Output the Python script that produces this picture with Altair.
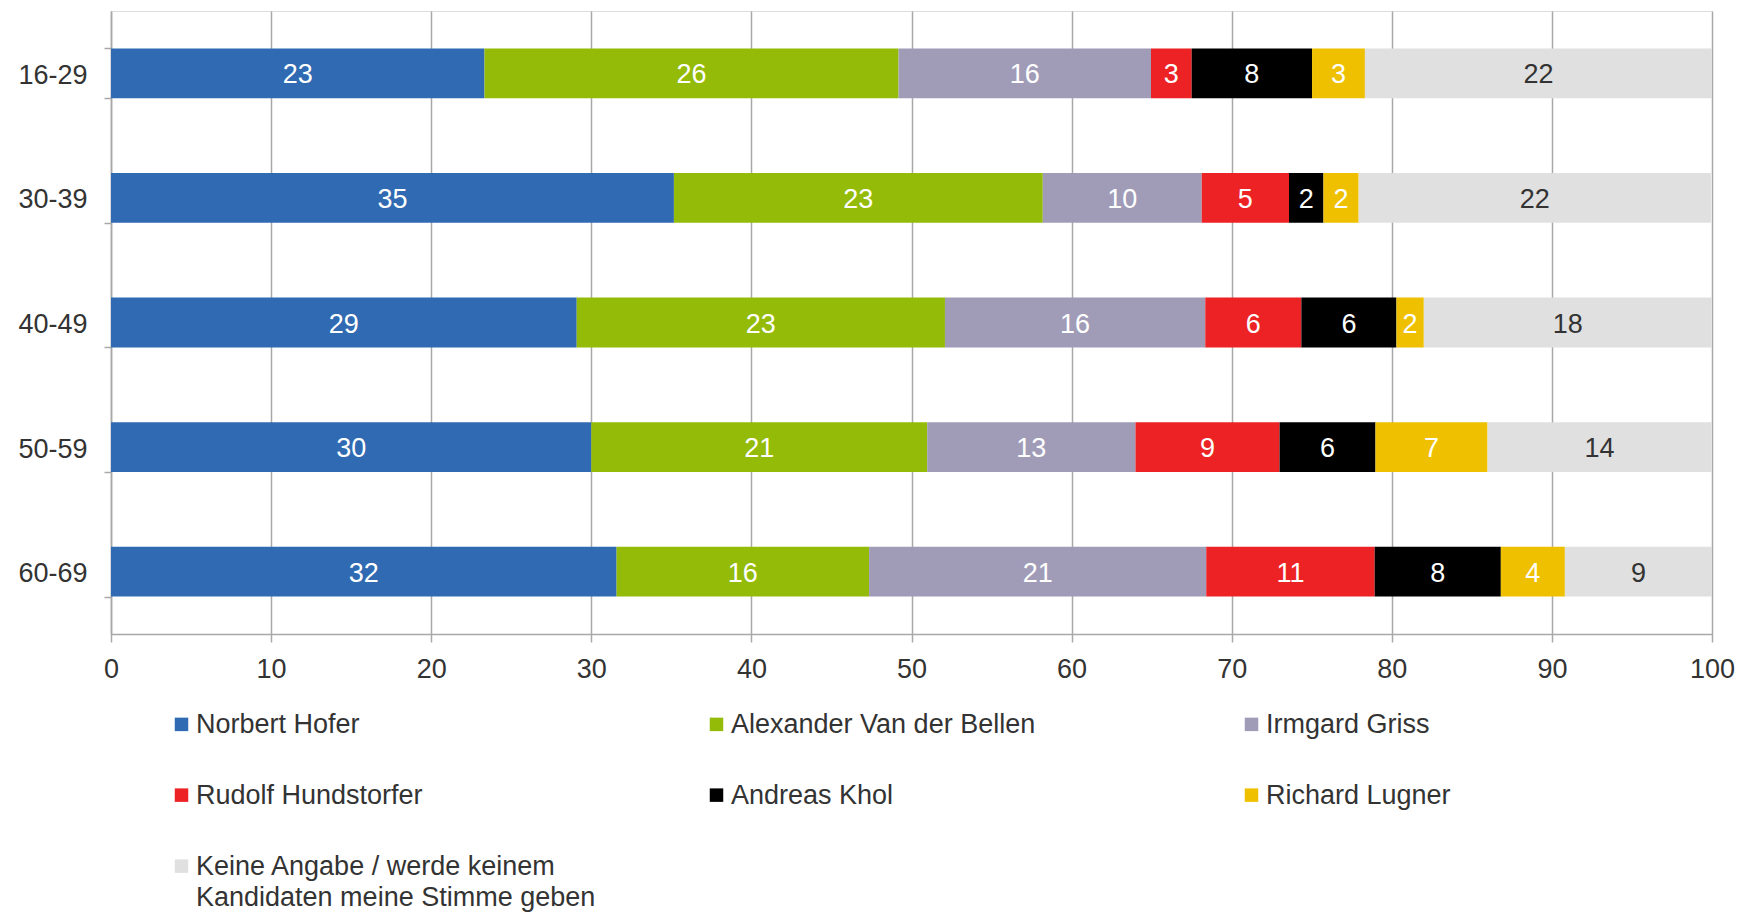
import altair as alt
import pandas as pd

FONT = "Liberation Sans"
FS = 27

ages = ["16-29", "30-39", "40-49", "50-59", "60-69"]
candidates = [
    "Norbert Hofer",
    "Alexander Van der Bellen",
    "Irmgard Griss",
    "Rudolf Hundstorfer",
    "Andreas Khol",
    "Richard Lugner",
    "Keine Angabe / werde keinem Kandidaten meine Stimme geben",
]
colors = ["#2F6AB2", "#93BB07", "#A09CB8", "#EC2224", "#000000", "#EEC000", "#E0E0E0"]

hofer = [23.33, 35.16, 29.09, 30.0, 31.58]
vdb = [25.86, 23.04, 23.0, 20.98, 15.77]
griss = [15.77, 9.93, 16.26, 13.01, 21.06]
hund = [2.54, 5.45, 6.0, 9.0, 10.52]
khol = [7.52, 2.15, 5.94, 5.99, 7.88]
lugner = [3.3, 2.2, 1.71, 7.0, 4.0]
keine = [21.7, 22.0, 17.98, 14.0, 9.19]

x_ticks = [0, 10, 20, 30, 40, 50, 60, 70, 80, 90, 100]

series = [hofer, vdb, griss, hund, khol, lugner, keine]
rows = []
for ci, (cand, vals) in enumerate(zip(candidates, series)):
    for age, v in zip(ages, vals):
        rows.append({"age": age, "candidate": cand, "order": ci, "value": v})
df = pd.DataFrame(rows)

GRID = "#A8A8A8"
TXT = "#333333"

base = alt.Chart(df).transform_stack(
    stack="value", groupby=["age"], as_=["x0", "x1"],
    sort=[alt.SortField("order", order="ascending")],
).transform_calculate(mid="(datum.x0 + datum.x1) / 2")

y_enc = alt.Y(
    "age:N", sort=ages, title=None,
    scale=alt.Scale(paddingInner=0.6, paddingOuter=0.3),
    axis=alt.Axis(
        domain=True, domainColor=GRID, domainWidth=1.5,
        ticks=True, tickColor=GRID, tickWidth=1.5, tickSize=7, tickBand="extent",
        grid=False, labelFontSize=FS, labelColor=TXT, labelFont=FONT, labelPadding=17,
        labelOffset=2,
    ),
)

label_expr = (
    "datum.label == 'Keine Angabe / werde keinem Kandidaten meine Stimme geben' ? "
    "['Keine Angabe / werde keinem', 'Kandidaten meine Stimme geben'] : [datum.label, '']"
)

bars = base.mark_bar().encode(
    x=alt.X(
        "x0:Q", title=None,
        scale=alt.Scale(domain=[0, 100], nice=False, clamp=True),
        axis=alt.Axis(
            values=x_ticks, grid=True, gridColor=GRID, gridWidth=1.5,
            domain=True, domainColor=GRID, domainWidth=1.5,
            ticks=True, tickColor=GRID, tickWidth=1.5, tickSize=8,
            labelFontSize=FS, labelColor=TXT, labelFont=FONT, labelPadding=14,
            labelFlush=False,
        ),
    ),
    x2="x1:Q",
    y=y_enc,
    color=alt.Color(
        "candidate:N",
        sort=candidates,
        scale=alt.Scale(domain=candidates, range=colors),
        legend=alt.Legend(
            title=None, orient="none", legendX=57, legendY=708, columns=3,
            direction="horizontal",
            symbolType="M-1,-2.24H1V-0.24H-1Z", symbolSize=182, symbolStrokeWidth=0,
            labelFontSize=FS, labelFont=FONT, labelColor=TXT, labelLimit=700,
            labelBaseline="alphabetic", labelOffset=1, gridAlign="all",
            columnPadding=107, rowPadding=12, labelExpr=label_expr,
        ),
    ),
    order=alt.Order("order:Q"),
)

texts = base.mark_text(fontSize=FS, font=FONT, dy=2).encode(
    x=alt.X("mid:Q"),
    y=alt.Y("age:N", sort=ages),
    text=alt.Text("value:Q", format=".0f"),
    color=alt.condition(
        alt.datum.candidate == candidates[-1], alt.value(TXT), alt.value("white")
    ),
)

chart = (
    alt.layer(bars, texts)
    .properties(
        width=1601, height=623,
        padding={"left": 103, "top": 3, "right": 26, "bottom": 290},
        autosize=alt.AutoSizeParams(type="none"),
        background="white",
    )
    .configure_view(stroke=None)
    .configure(font=FONT, style={"guide-label": {"lineHeight": 31}})
)

chart.save("out.html", embed_options={"renderer": "svg", "actions": False})
